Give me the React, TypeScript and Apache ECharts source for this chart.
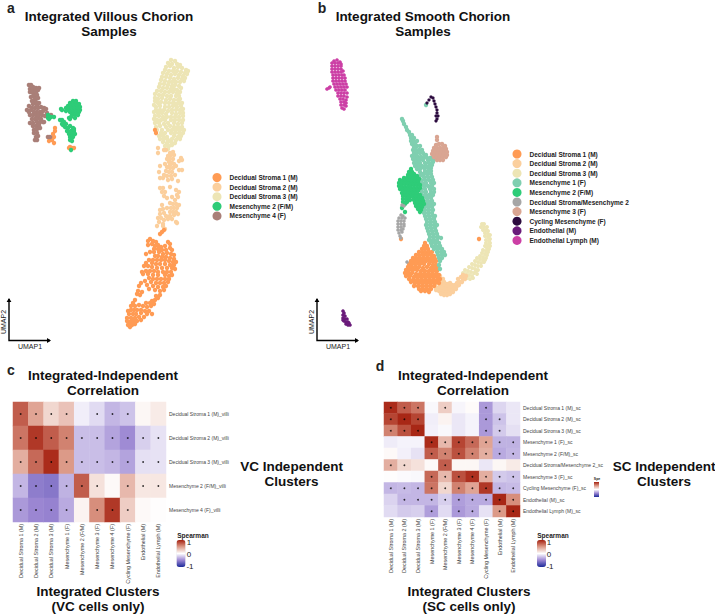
import React, { useEffect, useRef } from "react";
import * as echarts from "echarts";

const FONT = "Liberation Sans";
type P = number[];

// ---------- UMAP points (panel a) ----------
const aDS1: P[] = [[162,232],[164,230],[160,234],[150,239],[148,241],[153,241],[156,242],[152,244],[148,245],[155,246],[158,245],[161,247],[168,242],[170,244],[165,246],[170,248],[172,250],[154,249],[158,249],[162,250],[166,250],[150,252],[146,254],[154,252],[159,252],[163,254],[167,253],[171,254],[174,255],[155,256],[158,256],[162,257],[166,257],[170,258],[174,259],[149,260],[153,260],[157,260],[161,260],[165,260],[169,261],[173,262],[176,262],[146,263],[152,263],[156,264],[160,264],[165,264],[170,265],[174,265],[144,266],[148,266],[152,267],[157,268],[162,268],[167,268],[172,268],[175,269],[142,272],[146,271],[150,271],[154,271],[158,272],[163,272],[167,272],[171,272],[148,274],[153,275],[158,275],[165,275],[169,276],[172,275],[143,274],[149,278],[153,279],[157,279],[161,279],[165,279],[169,279],[141,283],[145,281],[151,282],[156,283],[160,283],[164,283],[168,282],[139,286],[147,285],[153,286],[158,287],[163,287],[166,286],[149,289],[155,290],[160,291],[164,290],[138,291],[137,294],[140,295],[142,292],[156,296],[160,295],[152,301],[155,300],[158,298],[150,303],[146,303],[154,304],[143,306],[147,307],[151,306],[135,300],[133,303],[131,306],[135,306],[139,305],[128,311],[131,310],[134,310],[137,310],[141,310],[145,311],[149,311],[129,314],[133,314],[136,314],[141,313],[147,314],[152,314],[127,318],[131,318],[135,318],[139,317],[144,317],[130,322],[133,321],[137,321],[141,320],[128,325],[132,325],[135,324],[130,327],[127,321],[155,130],[156,133],[55,128],[55,131],[53,134],[54,137],[50,138],[52,140],[49,141],[54,143],[70,147],[72,148],[74,148],[69,148]];
const aDS2: P[] = [[158,148],[158,153],[164,150],[166,150],[170,153],[173,152],[171,155],[168,156],[174,155],[167,159],[170,159],[173,159],[181,158],[182,160],[179,161],[160,166],[169,162],[172,163],[165,164],[170,165],[174,164],[167,167],[170,168],[173,168],[176,166],[179,170],[182,170],[159,172],[166,171],[169,172],[172,172],[164,175],[167,176],[171,176],[175,175],[160,178],[163,178],[168,180],[172,179],[178,181],[160,188],[163,188],[162,192],[165,192],[176,190],[179,192],[177,195],[170,187],[164,196],[167,198],[172,197],[178,197],[162,205],[175,200],[170,203],[173,204],[176,204],[179,205],[160,210],[163,209],[167,208],[171,208],[174,208],[177,208],[170,212],[173,212],[176,212],[160,214],[164,213],[166,216],[170,216],[174,215],[178,214],[158,218],[161,218],[164,220],[168,219],[172,219],[176,222],[159,222],[163,224],[157,226],[177,223],[163,226],[165,229]];
const aDS3: P[] = [[171,60],[175,61],[168,63],[172,64],[177,64],[180,65],[166,67],[170,66],[174,68],[178,67],[182,68],[186,70],[165,70],[169,71],[173,71],[177,71],[181,72],[185,73],[188,71],[163,73],[167,74],[171,75],[175,74],[179,75],[183,76],[187,74],[162,77],[166,77],[170,78],[174,79],[178,78],[182,79],[185,78],[161,80],[165,81],[169,82],[172,82],[176,82],[180,82],[184,81],[160,84],[164,84],[168,85],[172,86],[175,85],[179,86],[159,87],[163,88],[167,88],[171,89],[174,89],[177,90],[181,88],[157,91],[161,91],[165,92],[169,92],[173,92],[177,93],[180,92],[155,94],[159,95],[163,95],[167,96],[171,96],[176,96],[179,96],[155,98],[158,99],[162,98],[166,100],[170,99],[174,100],[178,100],[180,99],[155,101],[158,103],[161,102],[165,103],[169,103],[173,103],[176,104],[179,103],[182,103],[154,105],[156,107],[160,106],[165,107],[169,107],[173,106],[177,107],[181,106],[156,110],[160,110],[164,110],[168,111],[172,110],[176,110],[180,110],[183,109],[154,112],[158,113],[162,113],[166,114],[172,113],[176,114],[180,113],[183,113],[155,116],[159,116],[163,117],[167,117],[171,117],[175,117],[179,117],[183,116],[154,119],[157,120],[161,120],[165,120],[171,120],[175,120],[179,120],[183,120],[155,123],[159,123],[164,124],[168,123],[174,123],[178,124],[182,123],[156,127],[160,126],[166,127],[170,126],[174,127],[178,127],[182,127],[157,130],[162,130],[168,130],[172,130],[176,130],[180,130],[184,130],[161,133],[165,133],[171,133],[175,133],[179,133],[183,133],[159,136],[163,136],[167,137],[174,136],[178,137],[181,136],[160,139],[164,139],[168,140],[172,139],[176,140],[180,139],[163,142],[167,143],[171,142],[175,143],[165,146],[169,146],[172,145],[168,149]];
const aMes2: P[] = [[73,101],[76,101],[70,103],[73,103],[76,103],[79,104],[68,106],[71,106],[74,106],[77,106],[80,107],[66,108],[69,109],[72,109],[75,109],[78,109],[80,110],[61,109],[66,111],[70,112],[73,112],[76,112],[79,112],[72,115],[75,115],[78,115],[75,118],[71,117],[62,110],[70,119],[62,120],[64,122],[63,125],[66,124],[69,118],[60,120],[62,124],[65,127],[68,128],[67,131],[70,126],[73,128],[71,131],[74,131],[69,134],[72,134],[75,134],[70,137],[73,137],[71,139],[74,129],[70,140],[72,141],[48,118],[51,117],[49,119],[54,117],[48,115],[71,150]];
const aMes4: P[] = [[29,85],[31,85],[33,87],[30,89],[33,90],[36,88],[39,88],[30,92],[33,93],[36,92],[38,90],[34,96],[37,95],[31,97],[35,99],[38,98],[32,101],[36,102],[33,104],[37,105],[29,106],[27,110],[29,112],[32,108],[35,108],[38,108],[41,107],[44,108],[46,109],[47,113],[43,111],[40,112],[37,112],[34,112],[31,110],[30,115],[33,115],[36,115],[39,115],[42,115],[45,116],[32,119],[35,119],[38,118],[41,119],[30,123],[33,123],[37,122],[40,122],[44,122],[33,126],[36,126],[39,125],[34,130],[37,129],[40,128],[34,133],[37,133],[36,137],[38,136],[37,140],[35,140],[39,103],[43,122],[51,115],[48,137],[50,137]];

// ---------- UMAP points (panel b) ----------
const bDS1: P[] = [[425,243],[424,246],[427,246],[422,249],[425,249],[428,249],[419,252],[422,252],[425,252],[429,252],[432,252],[416,255],[419,255],[423,255],[427,255],[431,255],[434,256],[413,258],[416,258],[420,258],[424,258],[428,258],[432,258],[435,259],[411,261],[414,261],[418,261],[422,261],[426,261],[430,261],[433,262],[436,261],[409,264],[412,264],[416,264],[420,264],[424,264],[429,264],[433,265],[436,265],[408,267],[411,267],[415,267],[419,267],[423,268],[427,267],[431,268],[435,268],[438,267],[406,270],[409,270],[413,270],[417,270],[421,271],[425,271],[429,271],[433,271],[437,271],[405,273],[408,273],[412,273],[416,274],[420,274],[424,274],[428,274],[432,274],[436,274],[439,275],[406,276],[410,276],[414,277],[418,277],[422,277],[426,277],[430,277],[434,277],[438,277],[409,279],[413,280],[417,280],[421,280],[425,280],[429,280],[433,280],[437,280],[440,279],[411,282],[415,283],[419,283],[423,283],[427,283],[431,283],[435,283],[439,283],[414,286],[418,286],[422,286],[426,286],[430,286],[434,286],[419,289],[423,289],[427,289],[431,289],[421,291],[425,291],[429,292],[401,239],[479,239]];
const bDS2: P[] = [[440,276],[443,279],[441,282],[444,282],[447,284],[437,283],[440,285],[443,285],[446,287],[449,285],[435,286],[438,288],[441,288],[444,289],[447,290],[450,288],[453,286],[436,290],[439,291],[442,292],[445,293],[448,293],[451,291],[454,289],[457,286],[460,282],[463,279],[441,294],[444,295],[447,295],[450,294],[453,292],[456,289],[459,285],[462,282],[465,279],[463,275],[466,276],[457,283],[452,285],[455,285],[458,279],[461,277],[450,283]];
const bDS3: P[] = [[482,224],[484,224],[481,227],[484,227],[487,227],[483,230],[486,230],[488,231],[485,233],[488,234],[490,235],[485,236],[488,237],[490,239],[486,240],[489,241],[490,243],[486,243],[488,245],[490,246],[485,246],[487,248],[489,249],[483,250],[486,251],[488,252],[482,253],[485,254],[487,255],[480,256],[483,257],[486,258],[477,258],[480,259],[483,260],[485,260],[475,261],[478,262],[481,263],[484,262],[472,264],[475,265],[478,266],[481,266],[469,267],[472,268],[475,269],[478,270],[465,270],[468,271],[471,272],[474,273],[477,274],[463,273],[466,274],[469,275],[472,276],[464,277],[467,278],[470,279],[473,278],[476,271]];
const bMes1: P[] = [[426,105],[402,119],[403,121],[404,124],[406,127],[407,130],[409,132],[410,135],[411,138],[412,135],[411,141],[413,140],[414,138],[412,144],[415,143],[417,141],[414,147],[417,146],[420,146],[413,150],[416,150],[419,150],[422,150],[414,153],[417,153],[420,153],[423,153],[426,155],[412,156],[415,156],[418,157],[421,157],[424,157],[427,158],[430,158],[433,157],[436,156],[413,159],[416,160],[419,160],[423,160],[428,160],[432,160],[435,159],[414,163],[417,163],[420,163],[425,163],[429,163],[433,162],[415,166],[419,166],[422,166],[426,166],[430,166],[432,165],[417,169],[420,169],[424,168],[428,168],[431,168],[420,172],[425,171],[429,171],[431,171],[423,174],[427,174],[431,174],[420,176],[424,177],[428,177],[432,177],[421,180],[425,180],[429,180],[433,180],[422,183],[426,183],[431,183],[434,183],[420,186],[424,186],[428,186],[432,186],[421,189],[425,189],[430,189],[434,189],[422,192],[426,192],[431,192],[434,192],[421,195],[425,195],[429,195],[433,195],[423,198],[427,198],[431,198],[424,201],[428,201],[432,201],[422,204],[426,204],[430,204],[434,204],[420,207],[424,207],[428,207],[432,207],[421,210],[425,210],[429,210],[433,210],[424,213],[428,213],[432,213],[425,216],[429,216],[433,216],[435,216],[426,219],[430,219],[434,219],[427,222],[431,222],[435,222],[426,225],[430,225],[434,225],[437,225],[427,228],[431,228],[435,228],[428,231],[432,231],[436,231],[429,234],[433,234],[437,234],[430,237],[434,237],[438,237],[429,240],[433,240],[437,240],[441,238],[431,243],[435,243],[439,243],[432,246],[436,246],[440,246],[434,249],[438,249],[442,249],[437,252],[441,252],[444,252],[438,255],[442,255],[445,255],[439,258],[442,258],[440,261],[439,265],[440,269]];
const bMes2: P[] = [[411,169],[409,172],[412,172],[414,174],[408,175],[411,175],[414,177],[417,176],[404,178],[407,178],[410,178],[413,179],[416,179],[419,179],[400,180],[403,181],[406,181],[409,181],[412,182],[415,182],[418,182],[399,183],[402,184],[405,184],[408,184],[411,185],[414,185],[417,185],[420,185],[399,186],[402,187],[405,187],[408,187],[411,188],[414,188],[417,188],[420,188],[400,189],[403,190],[406,190],[409,191],[412,191],[415,191],[418,191],[402,193],[405,193],[408,194],[411,194],[414,194],[417,194],[420,195],[403,196],[406,196],[409,197],[413,197],[416,197],[419,198],[422,198],[403,199],[406,199],[410,200],[414,200],[417,200],[420,201],[423,201],[403,202],[407,202],[415,203],[418,203],[421,204],[424,204],[405,204],[416,206],[419,206],[422,207],[418,209],[421,210],[420,212],[405,212],[402,208]];
const bGrey: P[] = [[402,205],[404,206],[401,215],[403,216],[399,218],[402,218],[405,218],[398,221],[401,221],[404,221],[398,224],[401,224],[404,224],[398,227],[401,227],[404,226],[398,230],[401,230],[403,229],[399,233],[402,232],[400,236],[401,238],[407,262]];
const bMes3: P[] = [[437,137],[437,140],[436,145],[439,144],[442,144],[445,146],[434,148],[437,148],[440,148],[443,148],[446,149],[433,151],[436,151],[439,151],[442,151],[445,151],[447,152],[432,154],[435,154],[438,154],[441,154],[444,154],[447,155],[434,157],[437,157],[440,157],[443,157],[446,157],[437,160],[440,160],[443,160],[439,159]];
const bCyc: P[] = [[427,103],[429,100],[431,97],[433,98],[434,101],[435,104],[436,107],[437,110],[437,113],[438,116],[436,116],[437,119],[436,121]];
const bEndo: P[] = [[343,311],[344,313],[343,315],[345,316],[343,318],[345,319],[347,319],[344,321],[346,322],[348,322],[346,324],[348,325],[349,323],[343,320],[350,325]];
const bLymph: P[] = [[334,61],[337,60],[340,62],[332,63],[335,63],[338,63],[341,64],[332,66],[335,66],[338,66],[341,66],[332,69],[335,69],[338,69],[341,69],[343,71],[332,72],[335,72],[338,72],[341,72],[333,75],[336,75],[339,75],[342,75],[344,75],[333,78],[336,78],[339,78],[342,78],[345,78],[333,81],[336,81],[339,81],[342,81],[345,81],[334,84],[337,84],[340,84],[343,84],[346,84],[335,87],[338,87],[341,87],[344,87],[347,87],[336,90],[339,90],[342,90],[345,90],[338,93],[341,93],[344,93],[347,93],[338,96],[341,96],[344,96],[347,97],[340,99],[343,99],[346,100],[341,102],[344,102],[346,103],[341,105],[344,105],[346,106],[342,108],[344,109],[327,89],[329,88],[330,87]];

// ---------- heatmaps ----------
const xCats = ["Decidual Stroma 1 (M)","Decidual Stroma 2 (M)","Decidual Stroma 3 (M)","Mesenchyme 1 (F)","Mesenchyme 2 (F/M)","Mesenchyme 3 (F)","Mesenchyme 4 (F)","Cycling Mesenchyme (F)","Endothelial (M)","Endothelial Lymph (M)"];
const yCatsC = ["Decidual Stroma 1 (M)_villi","Decidual Stroma 2 (M)_villi","Decidual Stroma 3 (M)_villi","Mesenchyme 2 (F/M)_villi","Mesenchyme 4 (F)_villi"];
const yCatsD = ["Decidual Stroma 1 (M)_sc","Decidual Stroma 2 (M)_sc","Decidual Stroma 3 (M)_sc","Mesenchyme 1 (F)_sc","Mesenchyme 2 (F/M)_sc","Decidual Stroma/Mesenchyme 2_sc","Mesenchyme 3 (F)_sc","Cycling Mesenchyme (F)_sc","Endothelial (M)_sc","Endothelial Lymph (M)_sc"];
const valuesC = [
  [.75,.45,.2,.3,-.07,-.15,-.3,-.25,.04,.1],
  [.65,.9,.75,.6,-.27,-.27,-.38,-.48,-.2,-.12],
  [.4,.7,.95,.5,-.27,-.27,-.3,-.38,-.13,-.12],
  [-.3,-.55,-.58,-.32,.75,.15,.03,.35,.12,.12],
  [-.42,-.5,-.52,-.35,.06,.55,.9,.25,.03,.01],
];
const valuesD = [
  [.95,.75,.65,-.03,.25,-.04,.02,-.42,-.17,-.1],
  [.85,.97,.85,-.07,.06,-.1,-.05,-.42,-.25,-.1],
  [.6,.8,.97,-.06,-.03,-.1,-.05,-.42,-.22,-.13],
  [-.08,-.05,-.05,.95,.35,.85,.7,.45,-.32,-.32],
  [.03,-.06,-.12,.75,.6,.8,.6,.4,-.35,-.3],
  [.4,.2,.15,.03,.75,.04,.04,-.1,.04,.1],
  [.01,-.02,-.03,.7,.35,.8,.93,.4,-.22,-.25],
  [-.3,-.28,-.3,.65,.2,.6,.45,.9,-.3,-.28],
  [-.18,-.3,-.3,-.3,-.2,-.4,-.35,-.35,.97,.55],
  [-.15,-.22,-.2,-.4,-.15,-.42,-.35,-.12,.5,.97],
];
// significant columns for each row
const sigC = [[0,1,2,3,5,6,7],[0,1,2,3,4,5,6,7,8,9],[0,1,2,3,4,5,6,7,8,9],[0,1,2,3,4,5,7,8,9],[0,1,2,3,5,6,7]];
const sigD = [[0,1,2,4,7],[0,1,2,7,8],[0,1,2,7,8],[3,4,5,6,7,8,9],[3,4,5,6,7,8,9],[0,1,4],[3,4,5,6,7,8,9],[0,1,2,3,4,5,6,7,8,9],[1,2,3,4,5,6,7,8,9],[3,5,6,8,9]];

const NAMES = {
  ds1: "Decidual Stroma 1 (M)", ds2: "Decidual Stroma 2 (M)", ds3: "Decidual Stroma 3 (M)",
  m1: "Mesenchyme 1 (F)", m2: "Mesenchyme 2 (F/M)", grey: "Decidual Stroma/Mesenchyme 2",
  m3: "Mesenchyme 3 (F)", m4: "Mesenchyme 4 (F)", cyc: "Cycling Mesenchyme (F)",
  endo: "Endothelial (M)", lymph: "Endothelial Lymph (M)",
};
const COLORS: Record<string, string> = {
  [NAMES.ds1]: "#FF9B54", [NAMES.ds2]: "#FBCF9D", [NAMES.ds3]: "#EDE5B5", [NAMES.m1]: "#7FCFB0",
  [NAMES.m2]: "#2ECC78", [NAMES.grey]: "#A6A6A6", [NAMES.m3]: "#D9A592", [NAMES.m4]: "#A97F78",
  [NAMES.cyc]: "#2C0B3F", [NAMES.endo]: "#6A1B7A", [NAMES.lymph]: "#CC3FA5",
};
const RAMP = ["#1c2a9a", "#9b86d2", "#ffffff", "#dc9a88", "#a5200f"];

const scatter = (name: string, data: P[], idx: number, size: number) => ({
  type: "scatter", name, data, xAxisIndex: idx, yAxisIndex: idx, symbolSize: size,
  itemStyle: { color: COLORS[name], opacity: 1 }, silent: true,
});
const cells = (rows: number[][]) => rows.flatMap((r, y) => r.map((v, x) => [x, y, v]));
const dots = (rows: number[][]) => rows.flatMap((r, y) => r.map((x) => [x, y]));

const title = (text: string, x: number, y: number, fontSize = 13.5) => ({
  type: "text", x, y,
  style: { text, fontFamily: FONT, fontSize, fontWeight: "bold", fill: "#111", align: "center", verticalAlign: "middle", lineHeight: 15 },
});
const small = (text: string, x: number, y: number, fontSize: number, rotation = 0, fontWeight = "normal") => ({
  type: "text", x, y, rotation,
  style: { text, fontFamily: FONT, fontSize, fontWeight, fill: "#222", align: "center", verticalAlign: "middle" },
});
const arrows = (x: number, top: number, y: number, right: number) => [
  { type: "polyline", shape: { points: [[x, top], [x, y], [right, y]] }, style: { stroke: "#000", lineWidth: 1.4, fill: "none" } },
  { type: "polygon", shape: { points: [[x - 2.4, top + 3], [x, top - 1], [x + 2.4, top + 3]] }, style: { fill: "#000" } },
  { type: "polygon", shape: { points: [[right - 3, y - 2.4], [right + 1, y], [right - 3, y + 2.4]] }, style: { fill: "#000" } },
];

const hiddenValue = (min: number, max: number, gridIndex: number, inverse = false) => ({
  type: "value", min, max, gridIndex, inverse, show: false, splitLine: { show: false },
});
const catX = (gridIndex: number) => ({
  type: "category", data: xCats, gridIndex, axisLine: { show: false }, axisTick: { show: false }, splitLine: { show: false },
  axisLabel: { rotate: 90, interval: 0, fontSize: 5.4, fontFamily: FONT, color: "#444", margin: 2 },
});
const catY = (data: string[], gridIndex: number) => ({
  type: "category", data, gridIndex, inverse: true, position: "right", axisLine: { show: false }, axisTick: { show: false }, splitLine: { show: false },
  axisLabel: { interval: 0, fontSize: 5, fontFamily: FONT, color: "#444", margin: 3 },
});
const legend = (names: string[], left: number, top: number) => ({
  data: names, left, top, orient: "vertical", icon: "circle", itemWidth: 9, itemHeight: 9, itemGap: 0.6,
  selectedMode: false, padding: 0,
  textStyle: { fontFamily: FONT, fontSize: 6.5, fontWeight: "bold", color: "#222", padding: [0, 0, 0, 3], lineHeight: 9 },
});
const colorbar = (seriesIndex: number, left: number, top: number) => ({
  type: "continuous", min: -1, max: 1, seriesIndex, left, top, itemWidth: 9, itemHeight: 27,
  orient: "vertical", calculable: false, hoverLink: false, padding: 0, inRange: { color: RAMP }, textStyle: { fontSize: 1 }, text: ["", ""], textGap: 0,
});

export default function App() {
  const ref = useRef<HTMLDivElement>(null);
  useEffect(() => {
    if (!ref.current) return;
    const chart = echarts.init(ref.current, undefined, { renderer: "svg" });
    const series: any[] = [
      scatter(NAMES.ds3, aDS3, 0, 4.4), scatter(NAMES.ds2, aDS2, 0, 4.4), scatter(NAMES.ds1, aDS1, 0, 4.4),
      scatter(NAMES.m4, aMes4, 0, 4.6), scatter(NAMES.m2, aMes2, 0, 4.4),
      scatter(NAMES.ds3, bDS3, 1, 4), scatter(NAMES.ds2, bDS2, 1, 4.4), scatter(NAMES.ds1, bDS1, 1, 4.4),
      scatter(NAMES.m1, bMes1, 1, 4.4), scatter(NAMES.m2, bMes2, 1, 4.4), scatter(NAMES.grey, bGrey, 1, 3.5),
      scatter(NAMES.m3, bMes3, 1, 4.4), scatter(NAMES.cyc, bCyc, 1, 3.2), scatter(NAMES.endo, bEndo, 1, 3.6),
      scatter(NAMES.lymph, bLymph, 1, 3.7),
    ];
    const heatC = series.length;
    series.push({ type: "heatmap", name: "Spearman VC", data: cells(valuesC), xAxisIndex: 2, yAxisIndex: 2, silent: true });
    series.push({ type: "scatter", name: "Significant VC", data: dots(sigC), xAxisIndex: 2, yAxisIndex: 2, symbolSize: 1.8, itemStyle: { color: "#000" }, silent: true });
    const heatD = series.length;
    series.push({ type: "heatmap", name: "Spearman SC", data: cells(valuesD), xAxisIndex: 3, yAxisIndex: 3, silent: true });
    series.push({ type: "scatter", name: "Significant SC", data: dots(sigD), xAxisIndex: 3, yAxisIndex: 3, symbolSize: 1.8, itemStyle: { color: "#000" }, silent: true });

    chart.setOption({
      animation: false,
      backgroundColor: "#fff",
      grid: [
        { left: 0, top: 0, width: 300, height: 360 },
        { left: 300, top: 0, width: 300, height: 360 },
        { left: 13, top: 402, width: 153, height: 120 },
        { left: 384, top: 402, width: 136, height: 115 },
      ],
      xAxis: [hiddenValue(0, 300, 0), hiddenValue(300, 600, 1), catX(2), catX(3)],
      yAxis: [hiddenValue(0, 360, 0, true), hiddenValue(0, 360, 1, true), catY(yCatsC, 2), catY(yCatsD, 3)],
      legend: [
        legend([NAMES.ds1, NAMES.ds2, NAMES.ds3, NAMES.m2, NAMES.m4], 212.5, 173),
        legend([NAMES.ds1, NAMES.ds2, NAMES.ds3, NAMES.m1, NAMES.m2, NAMES.grey, NAMES.m3, NAMES.cyc, NAMES.endo, NAMES.lymph], 512.5, 149.5),
      ],
      visualMap: [colorbar(heatC, 176.5, 540), colorbar(heatD, 537, 540)],
      series,
      graphic: [
        small("a", 11, 8, 14, 0, "bold"), small("b", 322, 8, 14, 0, "bold"),
        small("c", 11, 370, 14, 0, "bold"), small("d", 380, 366, 14, 0, "bold"),
        title("Integrated Villous Chorion\nSamples", 109, 24),
        title("Integrated Smooth Chorion\nSamples", 423, 24),
        title("Integrated-Independent\nCorrelation", 103, 383),
        title("Integrated-Independent\nCorrelation", 473, 383),
        title("Integrated Clusters\n(VC cells only)", 98, 599),
        title("Integrated Clusters\n(SC cells only)", 469, 599),
        title("VC Independent\nClusters", 291.5, 474),
        title("SC Independent\nClusters", 664, 474),
        ...arrows(9, 299, 340.5, 50),
        ...arrows(317, 299, 340.5, 358),
        small("UMAP1", 30, 346, 7), small("UMAP2", 3.5, 322, 7, Math.PI / 2),
        small("UMAP1", 338, 346, 7), small("UMAP2", 311, 322, 7, Math.PI / 2),
        small("Spearman", 193, 535, 6.5, 0, "bold"), small("1", 189, 542, 8), small("0", 189, 554, 8), small("-1", 190, 566, 8),
        small("Spearman", 553, 535, 6.5, 0, "bold"), small("1", 549, 542, 8), small("0", 549, 554, 8), small("-1", 550, 566, 8),
        small("Spe", 597, 479, 3.5, 0, "bold"),
        {
          type: "rect", shape: { x: 594, y: 482, width: 5, height: 15 },
          style: { fill: new echarts.graphic.LinearGradient(0, 0, 0, 1, [
            { offset: 0, color: RAMP[4] }, { offset: 0.25, color: RAMP[3] }, { offset: 0.5, color: RAMP[2] },
            { offset: 0.75, color: RAMP[1] }, { offset: 1, color: RAMP[0] },
          ]) },
        },
      ],
    });
    return () => chart.dispose();
  }, []);
  return <div ref={ref} style={{ position: "absolute", left: 0, top: 0, width: 715, height: 614 }} />;
}
